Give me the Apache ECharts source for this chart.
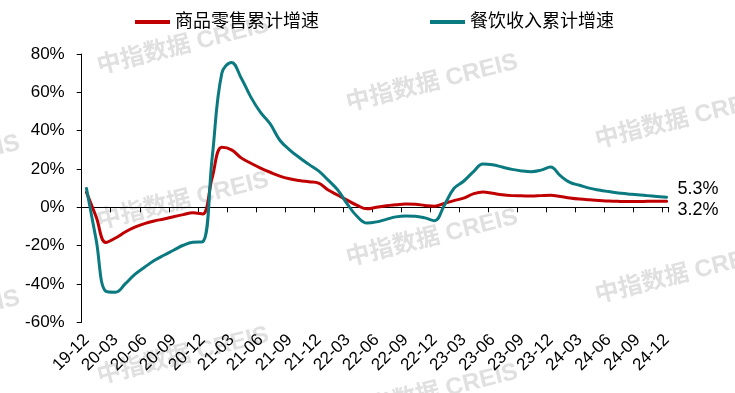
<!DOCTYPE html>
<html><head><meta charset="utf-8">
<script src="https://cdn.jsdelivr.net/npm/echarts@6.0.0/dist/echarts.min.js"></script>
<style>html,body{margin:0;padding:0;background:#fff}#c{width:735px;height:393px}</style>
</head><body><div id="c"></div>
<script>
const categories = [
 "19-12","20-01","20-02","20-03","20-04","20-05","20-06","20-07","20-08","20-09","20-10","20-11","20-12",
 "21-01","21-02","21-03","21-04","21-05","21-06","21-07","21-08","21-09","21-10","21-11","21-12",
 "22-01","22-02","22-03","22-04","22-05","22-06","22-07","22-08","22-09","22-10","22-11","22-12",
 "23-01","23-02","23-03","23-04","23-05","23-06","23-07","23-08","23-09","23-10","23-11","23-12",
 "24-01","24-02","24-03","24-04","24-05","24-06","24-07","24-08","24-09","24-10","24-11","24-12"];
const retailGoods = [
 7.8,-5,-18.3,-16,-12.9,-10.4,-8.5,-7.1,-6.1,-4.9,-3.8,-2.8,-3.5,
 15.5,31.3,30,25.8,23,20.5,18.3,16.3,14.9,14.0,13.3,12.6,
 9.0,6.3,3.6,1.0,-0.8,0,0.8,1.3,1.7,1.6,1.0,0.6,
 2.0,3.5,4.8,7.0,8.0,7.3,6.5,6.1,6.0,5.9,6.1,6.3,
 5.7,4.9,4.3,3.9,3.6,3.3,3.1,3.0,3.0,3.1,3.2,3.2];
const catering = [
 9.8,-17,-43.8,-44.3,-40,-35,-31.3,-27.8,-25,-22.4,-19.8,-18.2,-18,
 26,70,75.6,67.5,57.5,49.5,43.5,35,30,26,22.4,19,
 14.2,9,1.5,-4.8,-8.2,-7.6,-6.3,-5.0,-4.5,-4.6,-5.5,-7.0,
 1.0,9.8,13.6,18.5,22.6,22.2,21,19.8,19.0,18.6,19.4,21.0,
 16.5,13.0,11.5,10.0,9.0,8.2,7.5,7.0,6.5,6.1,5.7,5.3];
const seriesNames = ["商品零售累计增速","餐饮收入累计增速"];
const yMin = -60, yMax = 80, yStep = 20;
const watermarkText = "中指数据 CREIS";

const RED = "#C00000", TEAL = "#0A7A80";
const FONT = "'Liberation Sans', Arial, 'Noto Sans CJK SC', sans-serif";

const marks = [];
for (let c = -1; c <= 3; c++) {
  for (let r = -1; r <= 3; r++) {
    const x = 183 + 249 * c, y = 46 + 37 * c + 155 * r;
    if (x > -150 && x < 900 && y > -40 && y < 450) {
      marks.push({type:'text', x:x, y:y, rotation:14*Math.PI/180, z:-10, silent:true,
        style:{text:watermarkText, fill:'#e0e0e0', font:"bold 24px 'Liberation Sans','Noto Sans CJK SC',sans-serif",
               align:'center', verticalAlign:'middle'}});
    }
  }
}

const chart = echarts.init(document.getElementById('c'), null, {renderer:'canvas'});
const legendBase = {top:13, padding:0, itemWidth:35, itemHeight:4, icon:'rect',
  textStyle:{fontSize:18, color:'#000', fontFamily:FONT}};
chart.setOption({
  animation:false,
  backgroundColor:'#fff',
  graphic: marks,
  legend:[
    Object.assign({}, legendBase, {left:135, data:[{name:seriesNames[0]}]}),
    Object.assign({}, legendBase, {left:430, data:[{name:seriesNames[1]}]})
  ],
  grid:[
    {left:86.5, right:68.4, top:54, bottom:70.7},
    {left:81.7, right:66.3, top:54, bottom:70.7}
  ],
  xAxis:[
    {type:'category', gridIndex:0, data:categories, boundaryGap:false,
     axisLine:{show:false, onZero:false}, axisTick:{show:false}, splitLine:{show:false},
     axisLabel:{interval:2, rotate:45, margin:15, fontSize:17, color:'#000', fontFamily:FONT}},
    {type:'value', gridIndex:1, min:0, max:60.66, interval:3,
     axisLine:{show:true, onZero:true, lineStyle:{color:'#000', width:1}},
     axisTick:{show:true, length:5, lineStyle:{color:'#000'}},
     axisLabel:{show:false}, splitLine:{show:false}}
  ],
  yAxis:[
    {type:'value', gridIndex:0, min:yMin, max:yMax, interval:yStep, show:false},
    {type:'value', gridIndex:1, min:yMin, max:yMax, interval:yStep,
     axisLine:{show:true, onZero:false, lineStyle:{color:'#000', width:1}},
     axisTick:{show:true, length:5, lineStyle:{color:'#000'}},
     axisLabel:{formatter:'{value}%', fontSize:17, color:'#000', margin:17, fontFamily:FONT},
     splitLine:{show:false}}
  ],
  series:[
    {name:seriesNames[0], type:'line', xAxisIndex:0, yAxisIndex:0, data:retailGoods,
     smooth:0.4, showSymbol:false, symbol:'none', color:RED, z:3,
     lineStyle:{width:3, color:RED, cap:'round'},
     endLabel:{show:true, formatter:p => p.value + '%', offset:[3,9], fontSize:18, color:'#000', fontFamily:FONT}},
    {name:seriesNames[1], type:'line', xAxisIndex:0, yAxisIndex:0, data:catering,
     smooth:0.4, showSymbol:false, symbol:'none', color:TEAL, z:4,
     lineStyle:{width:3, color:TEAL, cap:'round'},
     endLabel:{show:true, formatter:p => p.value + '%', offset:[3,-8], fontSize:18, color:'#000', fontFamily:FONT}}
  ]
});
</script></body></html>
